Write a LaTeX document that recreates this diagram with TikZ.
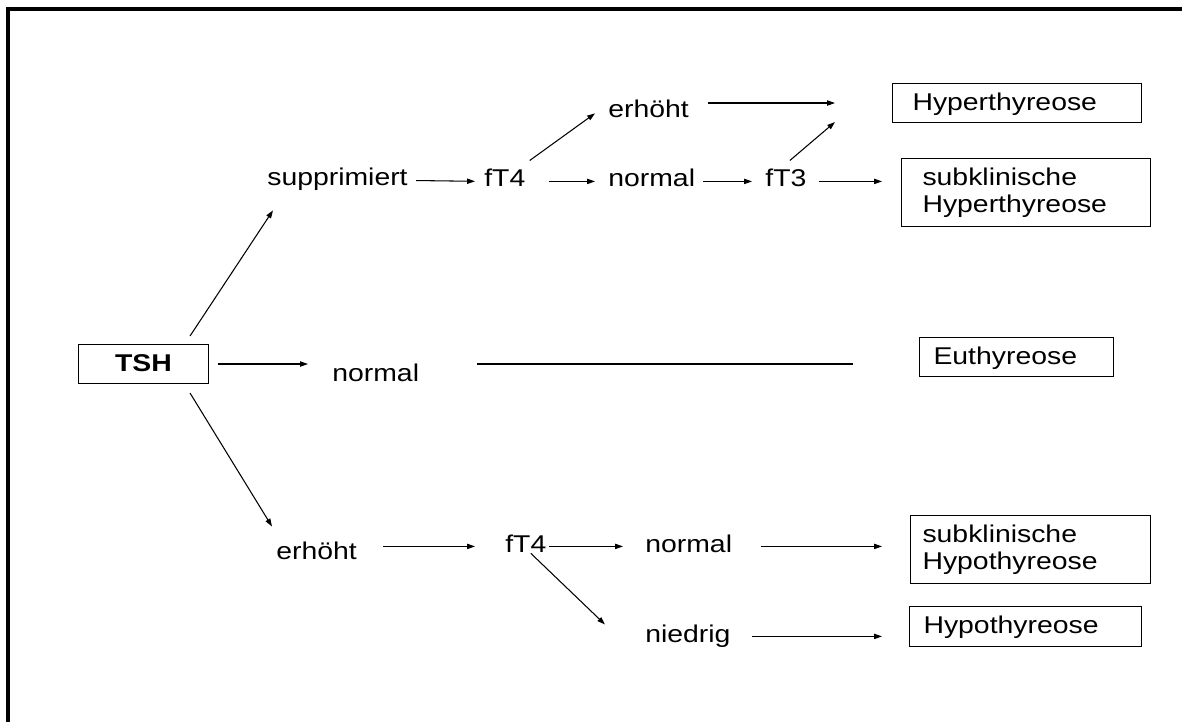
\documentclass[tikz,border=0pt]{standalone}
\usepackage{fontspec}
\setmainfont{Liberation Sans}[FakeStretch=1.17]
\usetikzlibrary{arrows.meta, calc}

\begin{document}
\begin{tikzpicture}[
    x=0.02cm, y=-0.02cm,
    font=\fontsize{13.8}{15.6}\selectfont,
    txt/.style={anchor=base west, inner sep=0pt, text height=1.2ex, text depth=0pt},
    box/.style={rectangle, draw, line width=0.6pt, anchor=north west, align=left, inner ysep=0pt},
    oneline/.style={text height=1.55ex, text depth=0pt},
    arrow/.style={-{Triangle[length=4.5pt, width=3pt]}, line width=0.6pt},
    link/.style={line width=0.6pt}
]
\useasboundingbox (0,0) rectangle (1182,722);

% Frame
\draw[line width=2pt] (8,722) -- (8,9) -- (1182,9);

% Start
\node[box, oneline, align=center, minimum width=2.6cm, minimum height=0.78cm, inner xsep=0pt, font=\fontsize{13.8}{15.6}\selectfont\bfseries] (tsh) at (78,344) {TSH};

% TSH suppressed
\node[txt] (supp) at (267,186) {supprimiert};
\node[txt] (ftA) at (484,187) {fT4};
\node[txt] (nrmA) at (608,187) {normal};
\node[txt] (ftB) at (765,187) {fT3};
\node[txt] (erhA) at (608,118) {erhöht};

% TSH normal
\node[txt] (nrmM) at (332,381) {normal};

% TSH raised
\node[txt] (erhB) at (276,559) {erhöht};
\node[txt] (ftC) at (505,552) {fT4};
\node[txt] (nrmB) at (645,552) {normal};
\node[txt] (nied) at (645,642) {niedrig};

% Diagnoses
\node[box, oneline, inner xsep=0.4cm, text width=4.18cm, minimum height=0.78cm] (hyper) at (892,83) {Hyperthyreose};
\node[box, inner xsep=0.42cm, text width=4.14cm, minimum height=1.36cm] (subhyper) at (901,158) {subklinische\\Hyperthyreose};
\node[box, oneline, inner xsep=0.28cm, text width=3.32cm, minimum height=0.78cm] (eu) at (919,337) {Euthyreose};
\node[box, inner xsep=0.24cm, text width=4.32cm, minimum height=1.36cm] (subhypo) at (910,515) {subklinische\\Hypothyreose};
\node[box, oneline, inner xsep=0.28cm, text width=4.08cm, minimum height=0.8cm] (hypo) at (909,606) {Hypothyreose};

% Arrows from TSH
\draw[arrow] ($(tsh.north east)+(-19,-8)$) -- ($(supp.south west)+(6,24)$);
\draw[arrow, shorten <=0.18cm, shorten >=0.48cm] (tsh.east) -- (tsh.east -| nrmM.west);
\draw[arrow] ($(tsh.south east)+(-19,9)$) -- ($(erhB.north west)+(-4,-21)$);

% Upper branch
\draw[arrow, shorten <=0.16cm, shorten >=0.18cm] (supp.east) -- (ftA.west);
\draw[arrow, shorten <=0.46cm, shorten >=0.26cm] (ftA.east) -- (nrmA.west);
\draw[arrow] ($(ftA.north east)+(4,-15)$) -- ($(erhA.south west)+(-13,-5)$);
\draw[arrow, shorten <=0.16cm, shorten >=0.26cm] (nrmA.east) -- (ftB.west);
\draw[arrow, shorten <=0.24cm, shorten >=0.38cm] (ftB.east) -- (ftB.east -| subhyper.west);
\draw[arrow] ($(ftB.north)+(4,-15)$) -- ($(hyper.south west)+(-57,-1)$);
\draw[arrow, shorten <=0.38cm, shorten >=1.14cm] (erhA.east |- hyper.west) -- (hyper.west);

% Middle branch
\draw[link, shorten <=1.16cm, shorten >=1.32cm] (nrmM.east |- tsh.east) -- (eu.west |- tsh.east);

% Lower branch
\draw[arrow, shorten <=0.52cm, shorten >=0.6cm] (ftC.west -| erhB.east) -- (ftC.west);
\draw[arrow, shorten <=0.04cm, shorten >=0.44cm] (ftC.east) -- (nrmB.west);
\draw[arrow] ($(ftC.south)+(5,1)$) -- ($(nied.north west)+(-40,-6)$);
\draw[arrow, shorten <=0.58cm, shorten >=0.56cm] (nrmB.east) -- (nrmB.east -| subhypo.west);
\draw[arrow, shorten <=0.42cm, shorten >=0.54cm] (nied.east) -- (nied.east -| hypo.west);

\end{tikzpicture}
\end{document}
